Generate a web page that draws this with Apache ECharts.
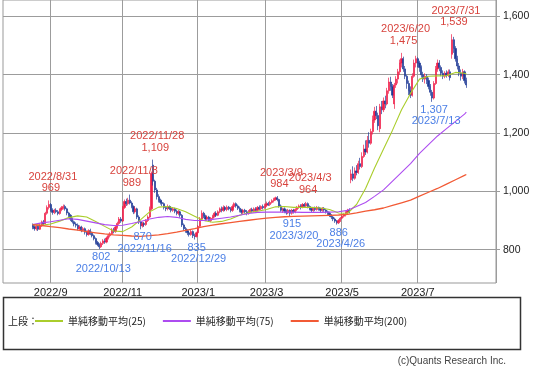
<!DOCTYPE html>
<html><head><meta charset="utf-8">
<script src="https://cdn.jsdelivr.net/npm/echarts@6/dist/echarts.min.js"></script>
<style>html,body{margin:0;padding:0;background:#fff}#c{width:543px;height:366px}</style>
</head><body><div id="c"></div>
<script>
// ---------- data ----------
const holidays = ['2022-08-11','2022-09-19','2022-09-23','2022-10-10','2022-11-03','2022-11-23',
  '2023-01-02','2023-01-03','2023-01-09','2023-02-23','2023-03-21','2023-05-03','2023-05-04',
  '2023-05-05','2023-07-17','2023-08-11'];
const firstTradeDate = '2022/8/18';
const padBefore = 16, padAfter = 16;

// [open, close, low, high]  daily, 2022/8/18 .. 2023/8/10
const ohlc = [
  // 2022/8
  [885,878,870,890],[878,872,865,884],[872,880,866,886],[880,870,864,884],[870,882,868,888],[882,895,878,900],[895,890,884,902],[890,925,886,930],[925,945,920,952],[945,955,938,969],
  // 2022/9
  [955,935,930,960],[935,928,920,942],[928,935,922,940],[935,930,925,942],[930,924,918,936],[924,938,920,942],[938,944,932,950],[944,948,938,955],[948,940,934,954],[940,926,918,944],
  [926,918,912,930],[918,905,898,922],[905,896,890,910],[896,888,880,900],[888,884,876,894],[884,872,866,890],[872,878,868,884],[878,866,860,882],[866,872,862,878],[872,860,852,876],
  // 2022/10
  [860,852,845,866],[852,865,848,870],[865,856,850,872],[856,848,842,862],[848,838,832,852],[838,825,818,842],[825,818,812,830],[818,810,802,822],[810,822,806,828],[822,830,816,836],
  [830,826,820,838],[826,840,822,845],[840,848,835,855],[848,855,842,860],[855,868,850,874],[868,862,856,875],[862,878,858,884],[878,890,872,896],[890,905,885,912],[905,898,892,912],
  // 2022/11
  [898,945,895,950],[945,965,940,972],[965,958,950,975],[958,970,952,978],[970,960,955,989],[960,948,942,966],[948,930,922,952],[930,940,924,948],[940,912,905,944],[912,895,888,918],
  [895,882,870,900],[882,890,876,896],[890,886,878,895],[886,900,882,905],[900,912,895,918],[912,940,908,948],[940,1062,936,1068],[1090,1035,1020,1109],[1035,1005,995,1040],[1005,982,972,1012],
  // 2022/12
  [982,970,962,990],[970,962,955,975],[962,958,950,968],[958,945,938,962],[945,940,932,950],[940,948,935,955],[948,942,936,952],[942,935,928,948],[935,940,930,946],[940,932,925,944],[932,925,918,938],
  [925,930,918,936],[930,918,910,934],[918,885,878,922],[885,872,865,890],[872,865,858,878],[865,858,850,870],[858,852,845,864],[852,862,848,868],[862,848,840,866],[848,845,835,855],[845,858,842,862],
  // 2023/1
  [858,880,852,885],[880,905,875,912],[905,925,900,935],[925,915,908,930],[915,905,898,920],[905,912,900,918],[912,900,895,916],[900,908,894,912],[908,915,902,920],[915,925,910,930],
  [925,918,912,932],[918,930,915,935],[930,940,925,945],[940,935,928,948],[935,945,930,952],[945,938,932,950],[938,946,932,952],[946,940,935,950],[940,935,928,946],
  // 2023/2
  [935,948,930,955],[948,958,942,962],[958,950,944,962],[950,942,936,955],[942,935,928,948],[935,928,922,940],[928,935,922,940],[935,930,924,940],[930,924,918,936],[924,930,920,936],
  [930,938,926,942],[938,932,926,944],[932,940,928,945],[940,935,930,946],[935,945,932,950],[945,940,935,952],[940,948,936,952],[948,944,938,955],[944,952,940,958],
  // 2023/3
  [952,958,946,965],[958,955,950,964],[955,962,950,968],[962,968,958,973],[968,972,962,978],[972,978,968,982],[978,972,966,984],[972,950,944,975],[950,935,930,955],[935,940,926,944],[940,932,925,945],
  [932,926,920,938],[926,935,922,940],[935,925,915,938],[925,935,920,940],[935,930,924,940],[930,938,925,942],[938,945,932,950],[945,950,940,955],[950,945,938,956],[945,955,942,960],[955,950,944,960],
  // 2023/4
  [950,958,945,964],[958,948,942,962],[948,940,935,952],[940,935,928,945],[935,942,930,946],[942,938,932,948],[938,945,934,950],[945,940,934,948],[940,935,928,944],[935,942,930,946],
  [942,936,930,946],[936,930,924,940],[930,925,918,934],[925,918,912,930],[918,912,905,922],[912,905,898,916],[905,898,892,910],[898,892,886,902],[892,900,888,905],[900,908,895,912],
  // 2023/5
  [908,915,904,920],[915,920,910,925],[920,928,914,932],[928,935,922,940],[935,930,925,942],[1040,1060,1028,1075],[1060,1045,1035,1086],[1045,1070,1040,1082],[1070,1065,1055,1090],[1065,1095,1060,1105],
  [1095,1085,1075,1115],[1085,1120,1080,1134],[1120,1145,1115,1160],[1145,1135,1125,1175],[1135,1175,1130,1190],[1175,1165,1150,1203],[1165,1205,1160,1215],[1205,1245,1195,1260],[1245,1275,1235,1290],[1275,1260,1248,1293],
  // 2023/6
  [1260,1225,1210,1270],[1215,1290,1203,1300],[1290,1280,1265,1310],[1280,1310,1272,1322],[1310,1300,1285,1328],[1300,1345,1295,1355],[1345,1375,1335,1390],[1375,1360,1345,1393],[1360,1330,1320,1368],[1300,1365,1283,1372],[1365,1385,1355,1395],
  [1385,1410,1370,1420],[1410,1440,1400,1452],[1440,1455,1425,1475],[1455,1420,1410,1462],[1420,1395,1385,1430],[1395,1370,1352,1400],[1370,1345,1330,1380],[1345,1330,1320,1360],[1330,1395,1325,1405],[1395,1440,1390,1452],[1440,1455,1425,1465],
  // 2023/7
  [1455,1440,1425,1460],[1440,1425,1410,1448],[1425,1400,1390,1432],[1400,1385,1375,1410],[1385,1395,1370,1405],[1395,1380,1368,1402],[1380,1360,1350,1390],[1360,1340,1328,1368],[1340,1320,1307,1348],[1320,1370,1315,1378],
  [1370,1420,1365,1430],[1420,1440,1410,1452],[1440,1425,1412,1450],[1425,1405,1395,1432],[1405,1395,1385,1415],[1395,1405,1388,1412],[1405,1398,1390,1415],[1398,1410,1392,1418],[1410,1390,1380,1418],[1470,1520,1455,1539],
  // 2023/8
  [1520,1490,1475,1530],[1490,1455,1445,1498],[1455,1430,1418,1465],[1430,1405,1395,1440],[1405,1395,1380,1418],[1395,1410,1385,1420],[1410,1380,1370,1415],[1380,1365,1355,1390]
];

// moving averages, one value every 5 trading days (+ last day)
const maStep = 5;
const ma25 = [886,884,888,898,910,916,912,897,880,864, 862,878,903,930,946,948,941,930,915,900,
  894,897,905,918,927,932,938,947,948,945, 945,945,943,938,926,925,955,1010,1080,1145,
  1210,1280,1336,1385,1395,1396,1397,1408,1405,1403];
const ma75 = [886,892,896,901,906,904,898,892,886,883, 884,890,897,905,911,914,911,904,900,900,
  904,908,912,918,924,928,929,929,929,929, 928,928,928,929,930,935,948,962,983,1005,
  1035,1065,1095,1130,1160,1190,1215,1240,1265,1272];
const ma200 = [886,883,879,876,871,867,862,858,854,851, 849,847,846,848,851,855,860,866,872,879,
  884,889,893,897,901,905,908,911,913,914, 915,916,917,918,919,921,926,932,937,943,
  952,961,970,984,997,1010,1025,1040,1055,1058];

const highMarks = [['2022/8/31',969],['2022/11/8',989],['2022/11/28',1109],['2023/3/9',984],['2023/4/3',964],['2023/6/20',1475],['2023/7/31',1539]];
const lowMarks = [['2022/10/13',802],['2022/11/16',870],['2022/12/29',835],['2023/3/20',915],['2023/4/26',886],['2023/7/13',1307]];

const yTicks = [800,1000,1200,1400,1600];
const monthLabels = ['2022/9','2022/11','2023/1','2023/3','2023/5','2023/7'];
const seriesNames = ['単純移動平均(25)','単純移動平均(75)','単純移動平均(200)'];
const maColors = ['#aacd2c','#ad4cf0','#f25a35'];

// ---------- build ----------
function iso(d){return d.toISOString().slice(0,10);}
function ymd(d){return d.getUTCFullYear()+'/'+(d.getUTCMonth()+1)+'/'+d.getUTCDate();}
const cal = [];
for (let t = Date.UTC(2022,6,1); t <= Date.UTC(2023,8,30); t += 86400000) {
  const d = new Date(t), wd = d.getUTCDay();
  if (wd === 0 || wd === 6) continue;
  if (holidays.indexOf(iso(d)) >= 0) continue;
  cal.push(ymd(d));
}
const s0 = cal.indexOf(firstTradeDate);
const cats = cal.slice(s0 - padBefore, s0 + ohlc.length + padAfter);
const candle = cats.map((c, i) => {
  const k = i - padBefore;
  return (k >= 0 && k < ohlc.length) ? ohlc[k] : '-';
});
function maSeries(arr){
  const out = cats.map(() => null);
  arr.forEach((v, k) => {
    let idx = k * maStep;
    if (idx >= ohlc.length) idx = ohlc.length - 1;
    out[idx + padBefore] = v;
  });
  return out;
}
const ym = c => c.split('/').slice(0,2).join('/');
const labelIdx = new Set();
cats.forEach((c, i) => {
  if (i > 0 && ym(c) !== ym(cats[i-1]) && monthLabels.indexOf(ym(c)) >= 0) labelIdx.add(i);
});

const fmt = v => v.toLocaleString('en-US');
const RED = '#d8433d', BLUE = '#4b7fe6';
const markData = [];
highMarks.forEach(([d, v]) => {
  const i = cats.indexOf(d);
  markData.push({coord:[i, v], label:{formatter: d, color: RED, offset:[4, -23.5]}});
  markData.push({coord:[i, v], label:{formatter: fmt(v), color: RED, offset:[2, -12]}});
});
lowMarks.forEach(([d, v]) => {
  const i = cats.indexOf(d);
  markData.push({coord:[i, v], label:{formatter: fmt(v), color: BLUE, offset:[2, 8]}});
  markData.push({coord:[i, v], label:{formatter: d, color: BLUE, offset:[4, 19.5]}});
});

const yMin = 685.8, yMax = 1656.3;
const gridColor = '#9c9c9c';
const chart = echarts.init(document.getElementById('c'), null, {renderer:'canvas'});
chart.setOption({
  animation: false,
  backgroundColor: '#fff',
  grid: {left: 3, top: 0, width: 493, height: 283, show: true, borderColor: '#999', borderWidth: 1, backgroundColor:'#fff'},
  xAxis: {
    type: 'category', data: cats, boundaryGap: true,
    axisLine: {show: false}, axisTick: {show: false},
    axisLabel: {interval: (i) => labelIdx.has(i), formatter: (v) => ym(v), color: '#222', fontSize: 11, fontFamily: 'Liberation Sans', margin: 4},
    splitLine: {show: true, interval: (i) => labelIdx.has(i), lineStyle: {color: gridColor, width: 1}}
  },
  yAxis: {
    type: 'value', position: 'right', min: yMin, max: yMax, scale: true,
    axisLine: {show: false},
    axisTick: {show: true, customValues: yTicks, length: 4, lineStyle: {color: gridColor}},
    axisLabel: {customValues: yTicks, formatter: fmt, color: '#222', fontSize: 10.5, fontFamily: 'Liberation Sans', margin: 7},
    splitLine: {show: true, lineStyle: {color: gridColor, width: 1}}
  },
  legend: {
    data: seriesNames, left: 35, top: 316, padding: 0, icon: 'rect', itemWidth: 28, itemHeight: 2, itemGap: 17,
    textStyle: {fontSize: 10, color: '#222', fontFamily: 'Noto Sans CJK JP'}
  },
  graphic: [
    {type: 'rect', shape: {x: 3.5, y: 297.5, width: 517, height: 52}, style: {fill: 'none', stroke: '#333', lineWidth: 1.5}},
    {type: 'text', left: 8, top: 316, style: {text: '上段：', fontSize: 10, fill: '#222', fontFamily: 'Noto Sans CJK JP'}},
    {type: 'text', right: 37, top: 356, style: {text: '(c)Quants Research Inc.', fontSize: 10, fill: '#444', fontFamily: 'Liberation Sans'}}
  ],
  series: [
    {
      type: 'candlestick', data: candle, barWidth: 1.7,
      itemStyle: {color: '#ef1f4a', color0: '#1f3b96', borderColor: '#ef1f4a', borderColor0: '#1f3b96', borderWidth: 0.7},
      markPoint: {
        symbol: 'rect', symbolSize: 1, itemStyle: {color: 'rgba(0,0,0,0)'},
        label: {show: true, position: 'inside', fontSize: 11, fontFamily: 'Liberation Sans'},
        data: markData
      }
    },
    {name: seriesNames[0], type: 'line', data: maSeries(ma25), connectNulls: true, symbol: 'none', lineStyle: {color: maColors[0], width: 1.1}, itemStyle: {color: maColors[0]}, z: 3},
    {name: seriesNames[1], type: 'line', data: maSeries(ma75), connectNulls: true, symbol: 'none', lineStyle: {color: maColors[1], width: 1.1}, itemStyle: {color: maColors[1]}, z: 3},
    {name: seriesNames[2], type: 'line', data: maSeries(ma200), connectNulls: true, symbol: 'none', lineStyle: {color: maColors[2], width: 1.3}, itemStyle: {color: maColors[2]}, z: 3}
  ]
});
</script>
</body></html>
